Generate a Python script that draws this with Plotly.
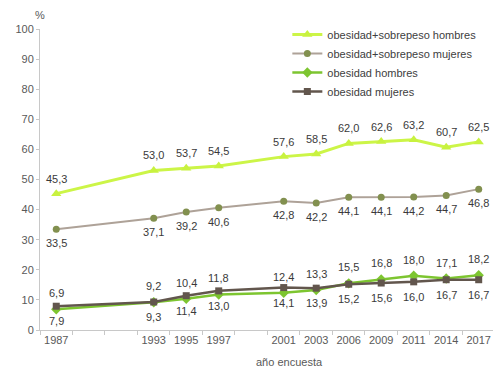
import plotly.graph_objects as go

x_categories = ["1987", " ", "  ", "1993", "1995", "1997", "   ",
                "2001", "2003", "2006", "2009", "2011", "2014", "2017"]
years = ["1987", "1993", "1995", "1997", "2001", "2003", "2006",
         "2009", "2011", "2014", "2017"]

os_hombres = [45.3, 53.0, 53.7, 54.5, 57.6, 58.5, 62.0, 62.6, 63.2, 60.7, 62.5]
os_mujeres = [33.5, 37.1, 39.2, 40.6, 42.8, 42.2, 44.1, 44.1, 44.2, 44.7, 46.8]
ob_hombres = [6.9, 9.2, 10.4, 11.8, 12.4, 13.3, 15.5, 16.8, 18.0, 17.1, 18.2]
ob_mujeres = [7.9, 9.3, 11.4, 13.0, 14.1, 13.9, 15.2, 15.6, 16.0, 16.7, 16.7]

y_ticks = [0, 10, 20, 30, 40, 50, 60, 70, 80, 90, 100]


def fmt(v):
    return f"{v:.1f}".replace(".", ",")


series = [
    dict(name="obesidad+sobrepeso hombres", y=os_hombres, line="#ccf547",
         marker="#c8f23f", symbol="triangle-up", msize=9, lw=3, shift=15),
    dict(name="obesidad+sobrepeso mujeres", y=os_mujeres, line="#aea298",
         marker="#82904f", symbol="circle", msize=7, lw=2, shift=-14),
    dict(name="obesidad hombres", y=ob_hombres, line="#7dc530",
         marker="#7dc530", symbol="diamond", msize=8, lw=2.5, shift=16),
    dict(name="obesidad mujeres", y=ob_mujeres, line="#62564d",
         marker="#62564d", symbol="square", msize=7, lw=2.5, shift=-15),
]

fig = go.Figure()
annotations = []
for s in series:
    fig.add_trace(go.Scatter(
        x=years, y=s["y"], name=s["name"], mode="lines+markers",
        line=dict(color=s["line"], width=s["lw"]),
        marker=dict(color=s["marker"], symbol=s["symbol"], size=s["msize"]),
    ))
    for xv, yv in zip(years, s["y"]):
        # category axes position annotations by category serial number
        annotations.append(dict(
            x=x_categories.index(xv), y=yv, xref="x", yref="y", text=fmt(yv),
            showarrow=False, xanchor="center", yanchor="middle", yshift=s["shift"],
            font=dict(size=11, color="#3a3a3a", family="Arial"),
        ))

annotations += [
    dict(text="%", x=0, y=1.0, xref="paper", yref="paper", xanchor="center",
         yanchor="bottom", yshift=6, showarrow=False,
         font=dict(size=11, color="#595959")),
    dict(text="año encuesta", x=(289 - 40) / 453, y=(330 - 362) / 301,
         xref="paper", yref="paper", showarrow=False, xanchor="center",
         yanchor="middle", font=dict(size=11, color="#595959")),
]

fig.update_layout(
    width=493, height=372,
    margin=dict(l=40, r=0, t=29, b=42),
    paper_bgcolor="white", plot_bgcolor="white",
    font=dict(family="Arial", size=11, color="#595959"),
    showlegend=True,
    legend=dict(x=0.546, y=1.03, xanchor="left", yanchor="top",
                font=dict(size=11, color="#404040"),
                bgcolor="rgba(0,0,0,0)", tracegroupgap=0),
    xaxis=dict(type="category", categoryorder="array", categoryarray=x_categories,
               range=[-0.5, 13.44], showline=True, linecolor="#c8c8c8", linewidth=1,
               ticks="outside", tickson="boundaries", ticklen=4, tickcolor="#c8c8c8",
               showgrid=False, zeroline=False, tickangle=0,
               tickfont=dict(size=11, color="#595959")),
    yaxis=dict(range=[0, 100], tickvals=y_ticks, showline=True, linecolor="#c8c8c8",
               linewidth=1, ticks="outside", ticklen=3, tickcolor="#c8c8c8",
               showgrid=False, zeroline=False,
               tickfont=dict(size=11, color="#595959")),
    annotations=annotations,
)

fig.write_html("out.html")
